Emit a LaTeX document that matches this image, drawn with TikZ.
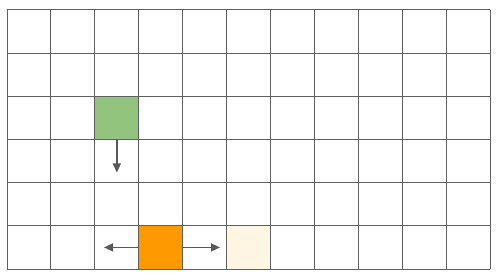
\documentclass[tikz,border=0pt]{standalone}
\usetikzlibrary{arrows.meta}
\definecolor{gridc}{HTML}{5F5F5F}
\definecolor{greenc}{HTML}{93C47D}
\definecolor{orangec}{HTML}{FF9900}
\definecolor{lightc}{HTML}{FFF5E3}
\definecolor{arrc}{HTML}{595959}
\tikzset{
  cell/.style={draw=none, minimum width=43.94pt, minimum height=43.17pt, inner sep=0pt, outer sep=0pt},
  gridline/.style={draw=gridc, line width=1pt},
  arr/.style={draw=arrc, line width=1.5pt, -{Triangle[length=9pt,width=8pt]}}
}
\begin{document}
\begin{tikzpicture}[x=1pt,y=-1pt]
\useasboundingbox (0,0) rectangle (498,280);
\fill[white] (0,0) rectangle (498,280);
% coloured cells
\node[cell, fill=greenc] (g) at ({7+2.5*43.94},{10+2.5*43.17}) {};
\node[cell, fill=orangec] (o) at ({7+3.5*43.94},{10+5.5*43.17}) {};
\node[cell, fill=lightc] (l) at ({7+5.5*43.94},{10+5.5*43.17}) {};
% grid
\foreach \i in {0,...,11} {
  \draw[gridline] ({7+\i*43.94},10) -- ({7+\i*43.94},269);
}
\foreach \j in {0,...,6} {
  \draw[gridline] (7,{10+\j*43.17}) -- (490.3,{10+\j*43.17});
}
% arrows
\coordinate (gt) at ({7+2.5*43.94},172.5);
\coordinate (ol) at (104,{10+5.5*43.17});
\coordinate (or) at (220,{10+5.5*43.17});
\draw[arr] (g.south) -- (gt);
\draw[arr] (o.west) -- (ol);
\draw[arr] (o.east) -- (or);
\end{tikzpicture}
\end{document}
